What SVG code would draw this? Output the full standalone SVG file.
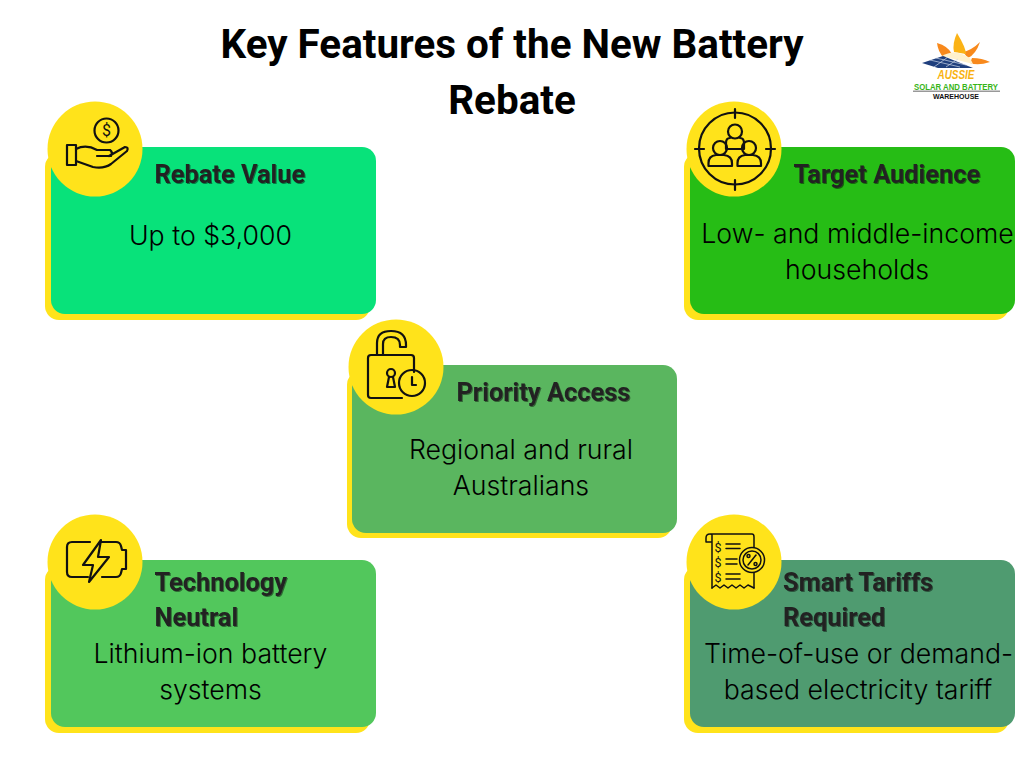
<svg xmlns="http://www.w3.org/2000/svg" width="1024" height="768" viewBox="0 0 1024 768">
<style>
.title{font:700 40.400px Roboto,"Liberation Sans",sans-serif;fill:#000;text-anchor:middle}
.head{font:700 25.400px Roboto,"Liberation Sans",sans-serif;fill:#222;filter:url(#ts)}
.body{font:300 26.700px Inter,"Liberation Sans",sans-serif;fill:#000;text-anchor:middle}
.back{fill:#ffe31b}
.disc{fill:#ffe31b}
.ic{fill:none;stroke:#111;stroke-width:2.2;stroke-linecap:round;stroke-linejoin:round}
.thin{stroke-width:1.500}
.ict{font:400 16px Roboto,"Liberation Sans",sans-serif;fill:#111;text-anchor:middle}
.ics{font:400 12.500px Roboto,"Liberation Sans",sans-serif;fill:#111;text-anchor:middle}
.logo{font-family:"Liberation Sans",sans-serif;font-weight:700;text-anchor:middle}
</style>
<defs>
<filter id="ts" x="-5%" y="-10%" width="110%" height="130%"><feDropShadow dx="1" dy="1" stdDeviation="0.7" flood-color="#000" flood-opacity="0.45"/></filter>
</defs>
<rect width="1024" height="768" fill="#fff"/>
<g id="title"><text class="title" x="512" y="58">Key Features of the New Battery</text><text class="title" x="512" y="114">Rebate</text></g>
<g id="logo">
<path d="M937 43Q948 46 952 54L944 58Q938 52 937 43ZM980 42Q976 54 968 58L963 52Q972 50 980 42ZM990 62Q978 66 970 63L972 58Q982 58 990 62Z" fill="#f8891c"/>
<path d="M957 33Q966 48 966 54L954 52Q952 44 957 33Z" fill="#fbb316"/>
<path d="M942 56Q955 48 970 58L973 64Z" fill="#fff1cc"/>
<path d="M922 63L943 56 973 68H938Z" fill="#1f3f7d"/>
<path d="M930 60L960 67M936 58L966 65M934 67L948 57M946 67L958 59" stroke="#cfd8ea" stroke-width=".7"/>
<text class="logo" x="956" y="79" font-style="italic" font-size="12" fill="#f9b210" textLength="37" lengthAdjust="spacingAndGlyphs">AUSSIE</text>
<text class="logo" x="956" y="90" font-size="9.500" fill="#38b518" textLength="84" lengthAdjust="spacingAndGlyphs">SOLAR AND BATTERY</text>
<rect x="913" y="90.500" width="87" height="1.500" fill="#999"/>
<text class="logo" x="956" y="98.500" font-size="7.500" fill="#111" textLength="46" lengthAdjust="spacingAndGlyphs">WAREHOUSE</text>
</g>
<g id="connectors"/>

<g id="rebate-value">
<rect class="back" x="45" y="153" width="325" height="167" rx="14"/>
<rect x="51" y="147" width="325" height="167" rx="14" fill="#08e27a"/>
<circle class="disc" cx="95" cy="149" r="47.500"/>
<g class="ic"><circle cx="106.500" cy="130.500" r="12"/><rect x="67" y="145" width="9" height="20"/><path d="M76 149Q86 144 97 150H110Q113 152 111 156H97M109 156L125 147Q129 147 127 151L111 164Q104 169 93 167L76 161"/></g>
<text class="ict" x="106.500" y="136">$</text>
<text class="head" x="154.500" y="183">Rebate Value</text>
<text class="body" x="210.500" y="245">Up to $3,000</text>
</g>

<g id="target-audience">
<rect class="back" x="684" y="153" width="325" height="167" rx="14"/>
<rect x="690" y="147" width="325" height="167" rx="14" fill="#26bd15"/>
<circle class="disc" cx="734" cy="149" r="47.500"/>
<g class="ic"><circle cx="735" cy="148.500" r="36"/><path d="M735 109V118M735 180V190M695 149H704M766 149H775"/><circle cx="735" cy="131.500" r="7"/><path d="M726 149V143Q726 138 730 138M740 138Q744 138 744 143V149M726 149H744"/><circle cx="720" cy="148" r="7"/><path d="M708.500 166V163Q708.500 156 716 155H724Q732 156 732 163V166Z"/><circle cx="749" cy="148" r="7"/><path d="M737.500 166V163Q737.500 156 745 155H753Q761 156 761 163V166Z"/></g>
<text class="head" x="793.500" y="183">Target Audience</text>
<text class="body" x="857.500" y="243">Low- and middle-income</text>
<text class="body" x="857" y="279">households</text>
</g>

<g id="priority-access">
<rect class="back" x="347" y="371" width="325" height="167" rx="14"/>
<rect x="352" y="365" width="325" height="168" rx="14" fill="#5ab65f"/>
<circle class="disc" cx="396" cy="367" r="47.500"/>
<g class="ic"><path d="M377 355V343Q377 331 391 331Q406 331 406 345V347H400V345Q400 337 391 337Q383 337 383 344V355"/><path d="M414 372V358Q414 355 411 355H371Q368 355 368 358V395Q368 398 371 398H402"/><circle cx="391" cy="373" r="4"/><path d="M389 377L387 387H395L393 377"/><circle cx="412" cy="383" r="13"/><path d="M412 377V385H416"/></g>
<text class="head" x="456.500" y="401">Priority Access</text>
<text class="body" x="521" y="459">Regional and rural</text>
<text class="body" x="521" y="495">Australians</text>
</g>

<g id="technology-neutral">
<rect class="back" x="45" y="566" width="325" height="167" rx="14"/>
<rect x="51" y="560" width="325" height="167" rx="14" fill="#52c75c"/>
<circle class="disc" cx="95" cy="562" r="47.500"/>
<g class="ic"><path d="M90 542H72Q67 542 67 547V572Q67 577 72 577H88M101 542H116Q120 542 121 546L122 550H126V569H122L121 573Q120 577 116 577H102"/><path d="M101 540L83 565H93L89 582L109 557H98Z"/></g>
<text class="head"><tspan x="154.500" y="591">Technology</tspan><tspan x="154.500" y="626">Neutral</tspan></text>
<text class="body" x="210.500" y="663">Lithium-ion battery</text>
<text class="body" x="210.500" y="699">systems</text>
</g>

<g id="smart-tariffs">
<rect class="back" x="684" y="566" width="325" height="167" rx="14"/>
<rect x="690" y="560" width="325" height="167" rx="14" fill="#4f9b70"/>
<circle class="disc" cx="734" cy="562" r="47.500"/>
<g class="ic thin"><path d="M712 543V535Q712 534 710 534Q706 534 706 538V542H712M710 534H752Q754 534 754 537V547M712 543V588M754 573V588"/><path d="M712 588L716 585 720 588 724 585 728 588 732 585 736 588 740 585 744 588 748 585 754 588"/><circle cx="752" cy="560" r="12.500"/><circle cx="752" cy="560" r="9"/><path d="M748 565L756 555"/><circle cx="748.500" cy="556" r="1.500"/><circle cx="755.500" cy="564" r="1.500"/><path d="M726 544H740M726 548.500H740M726 559H737M726 564H737M726 574H740M726 579H740"/></g>
<text class="ics" x="718" y="551.500">$</text><text class="ics" x="718" y="566.500">$</text><text class="ics" x="718" y="581.500">$</text>
<text class="head"><tspan x="783" y="591">Smart Tariffs</tspan><tspan x="783" y="626">Required</tspan></text>
<text class="body" x="858.500" y="663">Time-of-use or demand-</text>
<text class="body" x="858" y="699">based electricity tariff</text>
</g>
</svg>
